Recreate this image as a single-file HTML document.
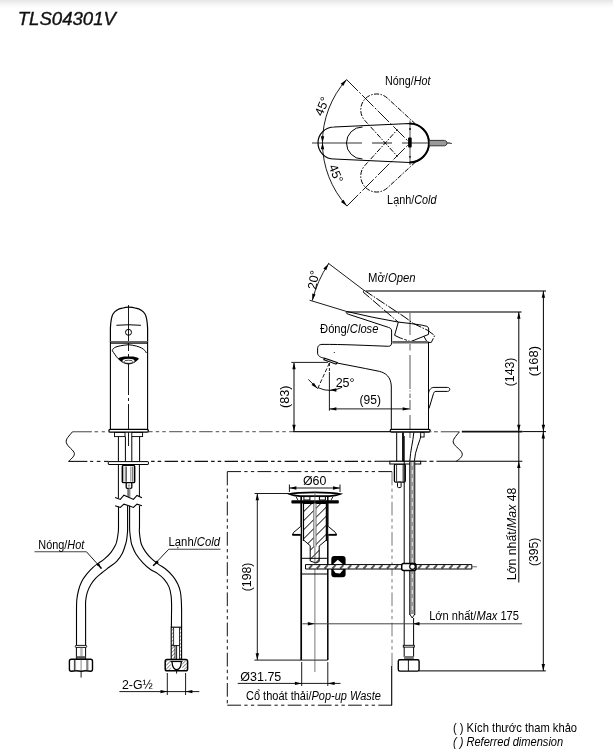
<!DOCTYPE html>
<html><head><meta charset="utf-8"><style>
html,body{margin:0;padding:0;background:#fff;}
body{width:613px;height:751px;overflow:hidden;position:relative;}
.top{position:absolute;left:0;top:0;width:613px;height:9px;background:linear-gradient(#e5e5e5 0px,#eeeeee 2px,#f5f5f5 4px,#fbfbfb 6px,#fff 9px);}
svg{position:absolute;left:0;top:0;font-family:"Liberation Sans",sans-serif;will-change:transform;}
</style></head><body><div class="top"></div>
<svg width="613" height="751" viewBox="0 0 613 751">
<text x="17.72" y="24.60" font-size="17.5" textLength="98.20" lengthAdjust="spacingAndGlyphs" fill="#111" font-style="italic" stroke="#111" stroke-width="0.35">TLS04301V</text>
<line x1="312" y1="143" x2="362" y2="143" stroke="#777" stroke-width="1.6" stroke-linecap="butt"/>
<line x1="372" y1="143" x2="392" y2="143" stroke="#777" stroke-width="1.6" stroke-linecap="butt"/>
<line x1="402" y1="143" x2="450" y2="143" stroke="#777" stroke-width="1.6" stroke-linecap="butt"/>
<line x1="410" y1="120.5" x2="410" y2="165" stroke="#777" stroke-width="1.3" stroke-linecap="butt"/>
<path d="M334,127 L409.5,123.5 A19.5,19.5 0 0 1 409.5,162.5 L334,159 A16,16 0 0 1 334,127 Z" stroke="#000" stroke-width="1.2" fill="none" />
<path d="M409.5,123.5 A19.5,19.5 0 0 1 409.5,162.5" stroke="#000" stroke-width="2.0" fill="none" />
<path d="M362.5,127 A16,16 0 0 0 362.5,159" stroke="#000" stroke-width="1.0" fill="none" />
<path d="M415.5,124 L387.9,98.6 A15.6,15.6 0 0 0 365.4,121.1 L397.5,156.5" stroke="#000" stroke-width="1.0" fill="none" stroke-dasharray="5 1.5 1.5 1.5" />
<path d="M415.5,162 L387.9,187.4 A15.6,15.6 0 0 1 365.4,164.9 L397.5,129.5" stroke="#000" stroke-width="1.0" fill="none" stroke-dasharray="5 1.5 1.5 1.5" />
<line x1="346.6" y1="79.6" x2="410" y2="143" stroke="#000" stroke-width="0.9" stroke-dasharray="16 2 2 2" stroke-linecap="butt"/>
<line x1="346.9" y1="206.1" x2="410" y2="143" stroke="#000" stroke-width="0.9" stroke-dasharray="16 2 2 2" stroke-linecap="butt"/>
<path d="M346.6,79.6 A94.5,94.5 0 0 0 346.9,206.1" stroke="#000" stroke-width="0.9" fill="none" />
<path d="M346.60,79.60 L343.20,85.95 L340.66,83.68 Z" fill="#000"/>
<path d="M346.90,206.10 L340.96,202.02 L343.50,199.75 Z" fill="#000"/>
<path d="M322.50,142.70 L320.80,136.20 L324.20,136.20 Z" fill="#000"/>
<path d="M322.50,142.70 L324.20,149.20 L320.80,149.20 Z" fill="#000"/>
<rect x="408.1" y="137.6" width="3.6" height="9.8" rx="0.9" stroke="#000" stroke-width="0" fill="#000"/>
<circle cx="410" cy="129" r="0.9" fill="#000"/><circle cx="410" cy="156.8" r="0.9" fill="#000"/>
<path d="M429.2,140.4 L444.5,140.4 Q446.8,140.6 447.2,143.1 Q446.8,145.6 444.5,145.8 L429.2,145.8 Z" stroke="#222" stroke-width="0.9" fill="#999" />
<line x1="447" y1="143.2" x2="451" y2="143.2" stroke="#555" stroke-width="0.8" stroke-linecap="butt"/>
<circle cx="451.1" cy="143.4" r="0.6" fill="#000"/>
<text x="326" y="107.9" font-size="12.5" text-anchor="middle" fill="#000" transform="rotate(-67.5 326 107.9)" >45°</text>
<text x="332" y="175.2" font-size="12.5" text-anchor="middle" fill="#000" transform="rotate(67.5 332 175.2)" >45°</text>
<text x="385.10" y="84.80" font-size="12.3" textLength="45.33" lengthAdjust="spacingAndGlyphs" fill="#000">Nóng/<tspan font-style="italic">Hot</tspan></text>
<text x="387.11" y="204.30" font-size="12.3" textLength="49.40" lengthAdjust="spacingAndGlyphs" fill="#000">Lạnh/<tspan font-style="italic">Cold</tspan></text>
<line x1="309.6" y1="300.2" x2="347.3" y2="311.7" stroke="#000" stroke-width="0.9" stroke-linecap="butt"/>
<line x1="328" y1="263" x2="364.2" y2="290.5" stroke="#000" stroke-width="0.9" stroke-linecap="butt"/>
<path d="M328.6,263.7 A115,115 0 0 0 312.3,300.6" stroke="#000" stroke-width="0.9" fill="none" />
<path d="M328.60,263.70 L326.21,270.29 L323.39,268.39 Z" fill="#000"/>
<path d="M312.30,300.60 L312.26,293.59 L315.57,294.40 Z" fill="#000"/>
<text x="317.6" y="280.6" font-size="12.5" text-anchor="middle" fill="#000" transform="rotate(-80 317.6 280.6)" >20°</text>
<text x="367.98" y="282.40" font-size="12.3" textLength="47.64" lengthAdjust="spacingAndGlyphs" fill="#000">Mở/<tspan font-style="italic">Open</tspan></text>
<text x="320.08" y="333.40" font-size="12.3" textLength="58.33" lengthAdjust="spacingAndGlyphs" fill="#000">Đóng/<tspan font-style="italic">Close</tspan></text>
<line x1="366" y1="291" x2="546" y2="291" stroke="#4a4a4a" stroke-width="1.5" stroke-linecap="butt"/>
<line x1="347" y1="312" x2="521.5" y2="312" stroke="#4a4a4a" stroke-width="1.5" stroke-linecap="butt"/>
<line x1="410" y1="312" x2="410" y2="335" stroke="#777" stroke-width="1.2" stroke-linecap="butt"/>
<line x1="410" y1="344" x2="410" y2="350.5" stroke="#666" stroke-width="1.1" stroke-linecap="butt"/>
<line x1="410" y1="355" x2="410" y2="389" stroke="#666" stroke-width="1.1" stroke-linecap="butt"/>
<line x1="410" y1="390.5" x2="410" y2="391.5" stroke="#666" stroke-width="1.1" stroke-linecap="butt"/>
<line x1="410" y1="393.5" x2="410" y2="398" stroke="#666" stroke-width="1.1" stroke-linecap="butt"/>
<line x1="410" y1="400" x2="410" y2="410" stroke="#666" stroke-width="1.1" stroke-linecap="butt"/>
<line x1="410" y1="415" x2="410" y2="429.5" stroke="#666" stroke-width="1.1" stroke-linecap="butt"/>
<line x1="410" y1="432" x2="410" y2="438" stroke="#666" stroke-width="1.1" stroke-linecap="butt"/>
<path d="M364.2,290.3 L405,317.3 L413.6,323.6 L427.8,330.4 L434.7,335.6 L431.3,342.4 L410.7,342.4" stroke="#000" stroke-width="1.0" fill="none" stroke-dasharray="10 1.5 1.5 1.5" />
<path d="M364.2,290.3 C362.8,291.5 363.5,293 365,293.6 L398.3,322.2" stroke="#000" stroke-width="1.0" fill="none" stroke-dasharray="10 1.5 1.5 1.5" />
<path d="M423.8,336.1 L427.3,342.4" stroke="#000" stroke-width="1.0" fill="none" stroke-dasharray="10 1.5 1.5 1.5" />
<path d="M346.9,311.5 Q372,317.5 397.8,322 L411.3,323.6 L422.1,325.2 L426.8,326.3 Q428.7,327 428.7,329 L428.5,334.4 L410.7,341.6" stroke="#000" stroke-width="1.0" fill="none" />
<path d="M346.9,311.5 C345.5,312.3 346.3,313.9 348.3,314.2 L388.5,327.4 C390.5,328 391.6,329 391.6,331 L391.6,342.4 C391.6,345 390.8,346.2 388.5,346.3" stroke="#000" stroke-width="1.0" fill="none" />
<path d="M398.3,322.2 L394.6,335.3 L400,337.9" stroke="#000" stroke-width="1.0" fill="none" />
<path d="M400,337.9 L410.7,341.6" stroke="#000" stroke-width="0.9" fill="none" stroke-dasharray="3 1.5" />
<line x1="392.3" y1="342.3" x2="428.5" y2="342.3" stroke="#666" stroke-width="2.4" stroke-linecap="butt"/>
<path d="M388.5,346.3 C370,345.6 340,344.2 322,344.4 C318.5,344.6 317.6,346.5 317.6,349 L317.6,353 C317.6,355.5 320,357.5 324.5,358.2" stroke="#000" stroke-width="1.0" fill="none" />
<path d="M337,363 L365.3,368.5 L379.2,371.3 C386,373 390.8,377 391.3,386 L391.3,430" stroke="#000" stroke-width="1.0" fill="none" />
<path d="M324.8,358.2 L337.2,362.6 L336,364.2 L323.8,359.8 Z" stroke="#000" stroke-width="1.1" fill="#ddd" />
<circle cx="334.3" cy="352.5" r="0.6" fill="#000"/>
<line x1="428.5" y1="342" x2="428.5" y2="430" stroke="#000" stroke-width="1.0" stroke-linecap="butt"/>
<rect x="390.2" y="429.4" width="40" height="2.6" rx="1.3" stroke="#000" stroke-width="1.3" fill="#fff"/>
<path d="M428.5,393 C429.5,389 431.5,387.4 434,387.4 L447.5,387.4 C450.5,387.4 450.5,391.4 447.5,391.4 L436,391.4 C434.5,391.4 433.8,392.5 433.5,393.5 L429,408.5" stroke="#000" stroke-width="1.0" fill="none" />
<line x1="291.3" y1="362.4" x2="327.9" y2="362.4" stroke="#000" stroke-width="0.9" stroke-linecap="butt"/>
<line x1="294" y1="362.4" x2="294" y2="431.6" stroke="#5a5a5a" stroke-width="1.5" stroke-linecap="butt"/>
<path d="M294.00,362.40 L295.70,369.20 L292.30,369.20 Z" fill="#000"/>
<path d="M294.00,431.60 L292.30,424.80 L295.70,424.80 Z" fill="#000"/>
<text x="288.80" y="407.91" font-size="12.2" textLength="22.43" lengthAdjust="spacingAndGlyphs" fill="#000" transform="rotate(-90 288.80 407.91)">(83)</text>
<line x1="329.4" y1="363" x2="329.4" y2="372" stroke="#000" stroke-width="0.9" stroke-dasharray="3 2" stroke-linecap="butt"/>
<line x1="329.4" y1="372" x2="329.4" y2="410.7" stroke="#000" stroke-width="0.9" stroke-linecap="butt"/>
<line x1="329.4" y1="363" x2="317.4" y2="389.2" stroke="#000" stroke-width="0.9" stroke-dasharray="4 2" stroke-linecap="butt"/>
<path d="M317.9,387.6 A27,27 0 0 0 342.2,387.2" stroke="#000" stroke-width="0.9" fill="none" />
<line x1="308.3" y1="379.4" x2="317.5" y2="388.5" stroke="#000" stroke-width="0.9" stroke-linecap="butt"/>
<path d="M317.60,388.60 L311.51,385.12 L313.87,382.67 Z" fill="#000"/>
<path d="M329.60,390.00 L336.40,388.30 L336.40,391.70 Z" fill="#000"/>
<text x="335.67" y="386.60" font-size="12.2" textLength="18.95" lengthAdjust="spacingAndGlyphs" fill="#000">25°</text>
<line x1="329.4" y1="408.9" x2="409.5" y2="408.9" stroke="#000" stroke-width="0.9" stroke-linecap="butt"/>
<path d="M329.60,408.90 L336.40,407.20 L336.40,410.60 Z" fill="#000"/>
<path d="M409.50,408.90 L402.70,410.60 L402.70,407.20 Z" fill="#000"/>
<text x="359.52" y="403.70" font-size="12.1" textLength="21.40" lengthAdjust="spacingAndGlyphs" fill="#000">(95)</text>
<line x1="518.8" y1="312" x2="518.8" y2="431.6" stroke="#000" stroke-width="1.0" stroke-linecap="butt"/>
<path d="M518.80,312.00 L520.50,318.80 L517.10,318.80 Z" fill="#000"/>
<path d="M518.80,431.60 L517.10,424.80 L520.50,424.80 Z" fill="#000"/>
<text x="513.60" y="386.27" font-size="12.2" textLength="28.71" lengthAdjust="spacingAndGlyphs" fill="#000" transform="rotate(-90 513.60 386.27)">(143)</text>
<line x1="543.4" y1="291" x2="543.4" y2="431.6" stroke="#000" stroke-width="1.0" stroke-linecap="butt"/>
<path d="M543.40,291.00 L545.10,297.80 L541.70,297.80 Z" fill="#000"/>
<path d="M543.40,431.60 L541.70,424.80 L545.10,424.80 Z" fill="#000"/>
<text x="537.70" y="376.16" font-size="12.2" textLength="30.11" lengthAdjust="spacingAndGlyphs" fill="#000" transform="rotate(-90 537.70 376.16)">(168)</text>
<line x1="72.6" y1="431.7" x2="91.9" y2="431.7" stroke="#707070" stroke-width="1.3" stroke-linecap="butt"/>
<line x1="94.5" y1="431.7" x2="98.1" y2="431.7" stroke="#707070" stroke-width="1.3" stroke-linecap="butt"/>
<line x1="101.7" y1="431.7" x2="104.9" y2="431.7" stroke="#707070" stroke-width="1.3" stroke-linecap="butt"/>
<line x1="148.5" y1="431.7" x2="293" y2="431.7" stroke="#707070" stroke-width="1.3" stroke-dasharray="13.4 3.1 3.5 3.1 3.5 3.4" stroke-linecap="butt" stroke-dashoffset="9.30"/>
<line x1="293" y1="431.6" x2="390" y2="431.6" stroke="#1a1a1a" stroke-width="1.3" stroke-linecap="butt"/>
<line x1="430" y1="431.7" x2="431.5" y2="431.7" stroke="#707070" stroke-width="1.3" stroke-linecap="butt"/>
<line x1="434" y1="431.7" x2="437.8" y2="431.7" stroke="#707070" stroke-width="1.3" stroke-linecap="butt"/>
<line x1="440.8" y1="431.7" x2="459.4" y2="431.7" stroke="#707070" stroke-width="1.3" stroke-linecap="butt"/>
<line x1="461.8" y1="431.6" x2="522.3" y2="431.6" stroke="#111" stroke-width="1.7" stroke-linecap="butt"/>
<line x1="522.3" y1="431.6" x2="546" y2="431.6" stroke="#000" stroke-width="1.0" stroke-linecap="butt"/>
<line x1="68.5" y1="461.4" x2="87.4" y2="461.4" stroke="#111" stroke-width="1.1" stroke-linecap="butt"/>
<line x1="90.1" y1="461.4" x2="93.2" y2="461.4" stroke="#111" stroke-width="1.1" stroke-linecap="butt"/>
<line x1="96.8" y1="461.4" x2="100.4" y2="461.4" stroke="#111" stroke-width="1.1" stroke-linecap="butt"/>
<line x1="104" y1="461.4" x2="108.5" y2="461.4" stroke="#111" stroke-width="1.1" stroke-linecap="butt"/>
<line x1="148.5" y1="461.4" x2="376" y2="461.4" stroke="#111" stroke-width="1.1" stroke-dasharray="13.4 3.1 3.5 3.1 3.5 3.4" stroke-linecap="butt" stroke-dashoffset="13.90"/>
<line x1="376" y1="461.3" x2="426.6" y2="461.3" stroke="#000" stroke-width="1.1" stroke-linecap="butt"/>
<line x1="429.5" y1="461.3" x2="433.5" y2="461.3" stroke="#000" stroke-width="1.1" stroke-linecap="butt"/>
<line x1="436.4" y1="461.3" x2="522.3" y2="461.3" stroke="#000" stroke-width="1.1" stroke-linecap="butt"/>
<path d="M72.6,431.7 C69,436 65.5,439 66.3,442.5 C67.5,447 74,450 74.4,453.7 C74.5,456.5 70.5,459.5 68.5,461.4" stroke="#000" stroke-width="1.0" fill="none" />
<path d="M459.4,431.9 C456,436 452,440 453.5,443 C455,447 462,450 462.3,454.3 C462.3,457 459,459.5 456.2,461.3" stroke="#000" stroke-width="1.0" fill="none" />
<line x1="128.5" y1="305" x2="128.5" y2="351" stroke="#000" stroke-width="0.9" stroke-linecap="butt"/>
<line x1="128.5" y1="354" x2="128.5" y2="395" stroke="#000" stroke-width="0.9" stroke-linecap="butt"/>
<line x1="128.5" y1="398" x2="128.5" y2="401" stroke="#000" stroke-width="0.9" stroke-linecap="butt"/>
<line x1="128.5" y1="404" x2="128.5" y2="446" stroke="#000" stroke-width="0.9" stroke-linecap="butt"/>
<path d="M110.4,342 L110.4,328 C110.8,320 111.5,316.5 113,314 C115,310.8 119,308.8 122.2,308.2 C124.5,307.5 126.5,307.2 129,307.2 C131.5,307.2 133.5,307.5 135.8,308.2 C139,308.8 143,310.8 145,314 C146.5,316.5 147.2,320 147.6,328 L147.6,342" stroke="#000" stroke-width="1.2" fill="none" />
<line x1="110.4" y1="342" x2="147.8" y2="342" stroke="#666" stroke-width="2.2" stroke-linecap="butt"/>
<line x1="110.4" y1="343.4" x2="147.8" y2="343.4" stroke="#000" stroke-width="0.8" stroke-linecap="butt"/>
<path d="M116.4,325.3 Q128.5,324.2 140.9,325.3" stroke="#000" stroke-width="1.0" fill="none" />
<circle cx="128.5" cy="332.3" r="3.0" stroke="#000" stroke-width="1.0" fill="none"/>
<line x1="110.4" y1="342" x2="110.4" y2="430" stroke="#000" stroke-width="1.1" stroke-linecap="butt"/>
<line x1="147.6" y1="342" x2="147.6" y2="430" stroke="#000" stroke-width="1.1" stroke-linecap="butt"/>
<path d="M112.3,350.7 C113,347.5 116,346 128.4,344.7 C141,346 144.9,349.5 146.4,353" stroke="#000" stroke-width="1.0" fill="none" />
<path d="M112.3,350.7 C114,353 116,356.5 118,358.5" stroke="#000" stroke-width="1.0" fill="none" />
<path d="M117.7,358.7 C121,356 125,356.4 128.5,356.4 C132,356.4 136,356 139.1,358.7 C136,362 132,364.5 128.5,364.5 C125,364.5 121,362 117.7,358.7 Z" fill="#000"/>
<ellipse cx="128.5" cy="361" rx="6.1" ry="2.3" fill="#fff"/>
<ellipse cx="128.5" cy="361.8" rx="4.5" ry="1.6" fill="none" stroke="#000" stroke-width="0.7"/>
<rect x="108.9" y="429.4" width="39.4" height="2.8" rx="1.3" stroke="#000" stroke-width="1.3" fill="#fff"/>
<rect x="114.5" y="432.5" width="10.5" height="4.1" rx="0" stroke="#000" stroke-width="0.9" fill="#fff"/>
<rect x="131.8" y="432.5" width="10.8" height="4.1" rx="0" stroke="#000" stroke-width="0.9" fill="#fff"/>
<line x1="118.4" y1="436.6" x2="118.4" y2="461.4" stroke="#000" stroke-width="1.0" stroke-linecap="butt"/>
<line x1="125.4" y1="436.6" x2="125.4" y2="461.4" stroke="#000" stroke-width="1.0" stroke-linecap="butt"/>
<line x1="131.8" y1="436.6" x2="131.8" y2="461.4" stroke="#000" stroke-width="1.0" stroke-linecap="butt"/>
<line x1="139.6" y1="436.6" x2="139.6" y2="461.4" stroke="#000" stroke-width="1.0" stroke-linecap="butt"/>
<rect x="108.3" y="461.6" width="40.1" height="2.9" rx="0.5" stroke="#000" stroke-width="1.0" fill="#fff"/>
<line x1="118.4" y1="464.5" x2="118.4" y2="498.2" stroke="#000" stroke-width="1.0" stroke-linecap="butt"/>
<line x1="139.4" y1="464.5" x2="139.4" y2="496.6" stroke="#000" stroke-width="1.0" stroke-linecap="butt"/>
<rect x="122.3" y="465.4" width="12.4" height="17.2" rx="1.2" stroke="#000" stroke-width="1.4" fill="#fff"/>
<line x1="123.8" y1="466.5" x2="123.8" y2="481.8" stroke="#777" stroke-width="0.8" stroke-linecap="butt"/>
<line x1="126.1" y1="466.5" x2="126.1" y2="481.8" stroke="#111" stroke-width="1.1" stroke-linecap="butt"/>
<line x1="130.8" y1="466.5" x2="130.8" y2="481.8" stroke="#999" stroke-width="1.2" stroke-linecap="butt"/>
<line x1="132.8" y1="466.5" x2="132.8" y2="481.8" stroke="#333" stroke-width="0.9" stroke-linecap="butt"/>
<rect x="126.2" y="482.6" width="5.6" height="5.7" rx="1" stroke="#000" stroke-width="1.3" fill="#fff"/>
<circle cx="129" cy="485.6" r="1.3" fill="#aaa"/>
<line x1="128.1" y1="488.3" x2="128.1" y2="496.9" stroke="#000" stroke-width="1.0" stroke-linecap="butt"/>
<rect x="128.6" y="488.3" width="1.8" height="8.6" fill="#888"/>
<path d="M115.05,497.4 L120.3,499.4 L123.9,495.2 L128.1,496.9 L133.4,499.4 L137,495.5 L142,497.7" stroke="#000" stroke-width="1.1" fill="none" />
<path d="M115.05,505.7 L120.3,507.4 L123.9,504.2 L128.1,505.6 L133.4,507.4 L137,504.2 L142,505.7" stroke="#000" stroke-width="1.1" fill="none" />
<path d="M118.5,506.5 L118.5,527 C118.47,527.83 118.57,529.72 118.30,532.00 C118.03,534.28 117.37,538.53 116.90,540.70 C116.43,542.87 116.48,543.07 115.50,545.00 C114.52,546.93 112.83,549.98 111.00,552.30 C109.17,554.62 106.53,557.13 104.50,558.90 C102.47,560.67 100.72,561.48 98.80,562.90 C96.88,564.32 95.05,565.48 93.00,567.40 C90.95,569.32 88.40,572.02 86.50,574.40 C84.60,576.78 82.92,579.10 81.60,581.70 C80.28,584.30 79.40,586.95 78.60,590.00 C77.80,593.05 77.15,596.67 76.80,600.00 C76.45,603.33 76.55,608.33 76.50,610.00 L76.5,645.4" stroke="#000" stroke-width="1.1" fill="none" />
<path d="M127.6,506 L127.6,527 C127.58,527.83 127.68,529.72 127.50,532.00 C127.32,534.28 126.87,538.53 126.50,540.70 C126.13,542.87 125.98,542.92 125.30,545.00 C124.62,547.08 123.83,550.48 122.40,553.20 C120.97,555.92 118.87,559.00 116.70,561.30 C114.53,563.60 111.85,565.10 109.40,567.00 C106.95,568.90 104.32,570.80 102.00,572.70 C99.68,574.60 97.40,576.35 95.50,578.40 C93.60,580.45 91.97,582.68 90.60,585.00 C89.23,587.32 88.12,589.72 87.30,592.30 C86.48,594.88 85.98,597.88 85.70,600.50 C85.42,603.12 85.62,606.75 85.60,608.00 L85.6,645.4" stroke="#000" stroke-width="1.1" fill="none" />
<path d="M129.6,505.8 L129.6,527 C129.63,527.83 129.58,529.72 129.80,532.00 C130.02,534.28 130.55,538.53 130.90,540.70 C131.25,542.87 131.08,542.82 131.90,545.00 C132.72,547.18 134.00,550.87 135.80,553.80 C137.60,556.73 140.25,559.98 142.70,562.60 C145.15,565.22 148.05,567.70 150.50,569.50 C152.95,571.30 155.12,571.77 157.40,573.40 C159.68,575.03 162.25,577.02 164.20,579.30 C166.15,581.58 167.95,584.33 169.10,587.10 C170.25,589.87 170.68,592.92 171.10,595.90 C171.52,598.88 171.53,601.98 171.60,605.00 C171.67,608.02 171.52,612.50 171.50,614.00 L171.4,627.2" stroke="#000" stroke-width="1.1" fill="none" />
<path d="M139.5,505.5 L139.5,527 C139.48,527.83 139.23,529.72 139.40,532.00 C139.57,534.28 140.12,538.53 140.50,540.70 C140.88,542.87 140.85,543.13 141.70,545.00 C142.55,546.87 143.97,549.62 145.60,551.90 C147.23,554.18 149.38,556.67 151.50,558.70 C153.62,560.73 155.85,562.30 158.30,564.10 C160.75,565.90 163.75,567.47 166.20,569.50 C168.65,571.53 171.05,573.85 173.00,576.30 C174.95,578.75 176.67,581.58 177.90,584.20 C179.13,586.82 179.83,589.23 180.40,592.00 C180.97,594.77 181.10,597.80 181.30,600.80 C181.50,603.80 181.55,608.47 181.60,610.00 L181.6,627.2" stroke="#000" stroke-width="1.1" fill="none" />
<line x1="34.5" y1="551.8" x2="86.5" y2="551.8" stroke="#444" stroke-width="1.1" stroke-linecap="butt"/>
<line x1="86.5" y1="551.8" x2="101.4" y2="568.4" stroke="#000" stroke-width="0.9" stroke-linecap="butt"/>
<circle cx="98.3" cy="564.7" r="1.4" fill="#000"/>
<line x1="98.3" y1="564.7" x2="101.4" y2="568.4" stroke="#000" stroke-width="1.5" stroke-linecap="butt"/>
<line x1="168.7" y1="549.3" x2="220.5" y2="549.3" stroke="#444" stroke-width="1.1" stroke-linecap="butt"/>
<line x1="168.7" y1="549.3" x2="153.2" y2="565.7" stroke="#000" stroke-width="0.9" stroke-linecap="butt"/>
<circle cx="156.9" cy="562.2" r="1.4" fill="#000"/>
<line x1="156.9" y1="562.2" x2="153.2" y2="565.7" stroke="#000" stroke-width="1.5" stroke-linecap="butt"/>
<text x="38.31" y="548.50" font-size="12.3" textLength="46.00" lengthAdjust="spacingAndGlyphs" fill="#000">Nóng/<tspan font-style="italic">Hot</tspan></text>
<text x="168.59" y="546.40" font-size="12.3" textLength="51.41" lengthAdjust="spacingAndGlyphs" fill="#000">Lạnh/<tspan font-style="italic">Cold</tspan></text>
<rect x="75.3" y="645.4" width="11.4" height="2.0" rx="0.8" stroke="#000" stroke-width="0.9" fill="#fff"/>
<line x1="76.4" y1="647.4" x2="76.4" y2="659.2" stroke="#000" stroke-width="1.0" stroke-linecap="butt"/>
<line x1="85.6" y1="647.4" x2="85.6" y2="659.2" stroke="#000" stroke-width="1.0" stroke-linecap="butt"/>
<line x1="80.9" y1="647.4" x2="80.9" y2="659.2" stroke="#666" stroke-width="0.6" stroke-linecap="butt"/>
<line x1="82" y1="647.4" x2="82" y2="659.2" stroke="#666" stroke-width="0.6" stroke-linecap="butt"/>
<rect x="76.6" y="656.2" width="8.8" height="2.4" fill="#555"/>
<path d="M71.3,659.2 L90.6,659.2 Q92.5,659.2 92.5,661.2 L92.5,669.2 Q92.5,671.2 90.6,671.2 Q86,670.4 81.1,671.2 Q76,670.4 71.3,671.2 Q69.4,671.2 69.4,669.2 L69.4,661.2 Q69.4,659.2 71.3,659.2 Z" stroke="#000" stroke-width="1.4" fill="#fff" />
<line x1="74.4" y1="659.6" x2="74.4" y2="670.8" stroke="#000" stroke-width="0.8" stroke-linecap="butt"/>
<line x1="75.6" y1="659.6" x2="75.6" y2="670.8" stroke="#555" stroke-width="0.6" stroke-linecap="butt"/>
<line x1="87" y1="659.6" x2="87" y2="670.8" stroke="#000" stroke-width="0.8" stroke-linecap="butt"/>
<line x1="88" y1="659.6" x2="88" y2="670.8" stroke="#555" stroke-width="0.6" stroke-linecap="butt"/>
<line x1="81.1" y1="659.6" x2="81.1" y2="670.8" stroke="#555" stroke-width="0.7" stroke-linecap="butt"/>
<line x1="81.1" y1="671.2" x2="81.1" y2="677.6" stroke="#000" stroke-width="0.9" stroke-linecap="butt"/>
<rect x="171.3" y="627.2" width="2.3" height="18.4" fill="url(#h3)"/>
<rect x="179.5" y="627.2" width="2.1" height="32.4" fill="url(#h3)"/>
<rect x="171.3" y="645.6" width="3.7" height="14" fill="url(#h3)"/>
<rect x="171.2" y="627.2" width="10.4" height="32.4" rx="0" stroke="#000" stroke-width="1.1" fill="none"/>
<line x1="173.6" y1="627.2" x2="173.6" y2="645.6" stroke="#000" stroke-width="0.8" stroke-linecap="butt"/>
<line x1="179.5" y1="627.2" x2="179.5" y2="659.6" stroke="#000" stroke-width="0.8" stroke-linecap="butt"/>
<line x1="171.2" y1="645.6" x2="179.5" y2="645.6" stroke="#000" stroke-width="0.9" stroke-linecap="butt"/>
<line x1="175" y1="645.6" x2="175" y2="659.6" stroke="#000" stroke-width="0.8" stroke-linecap="butt"/>
<line x1="176.6" y1="645.6" x2="176.6" y2="673.6" stroke="#000" stroke-width="0.9" stroke-linecap="butt"/>
<rect x="165.2" y="659.6" width="22.4" height="11.2" rx="1.8" stroke="#000" stroke-width="1.5" fill="#fff"/>
<rect x="166.2" y="660.6" width="4.5" height="9.2" fill="url(#h3)"/>
<rect x="182.3" y="660.6" width="4.4" height="9.2" fill="url(#h3)"/>
<path d="M170.5,661.5 L182.5,661.5" stroke="#000" stroke-width="1.2" fill="none" />
<path d="M172,662 C172.5,668 174.5,669.6 176.6,669.6 C179,669.6 181,668 181.3,662" stroke="#000" stroke-width="1.3" fill="none" />
<line x1="167.3" y1="673" x2="167.3" y2="695" stroke="#000" stroke-width="0.9" stroke-linecap="butt"/>
<line x1="185.6" y1="673" x2="185.6" y2="695" stroke="#000" stroke-width="0.9" stroke-linecap="butt"/>
<line x1="119.4" y1="691.6" x2="199.3" y2="691.6" stroke="#000" stroke-width="0.9" stroke-linecap="butt"/>
<path d="M167.30,691.60 L160.50,693.30 L160.50,689.90 Z" fill="#000"/>
<path d="M185.60,691.60 L192.40,689.90 L192.40,693.30 Z" fill="#000"/>
<text x="122.00" y="689.30" font-size="12" textLength="30.81" lengthAdjust="spacingAndGlyphs" fill="#000">2-G½</text>
<line x1="227.3" y1="471.6" x2="392" y2="471.6" stroke="#111" stroke-width="1.0" stroke-dasharray="13.7 3.3 3.3 3.3 3.3 3.3" stroke-linecap="butt"/>
<line x1="227.3" y1="471.6" x2="227.3" y2="705.2" stroke="#111" stroke-width="1.0" stroke-dasharray="13.7 3.3 3.3 3.3 3.3 3.3" stroke-linecap="butt"/>
<line x1="227.3" y1="705.2" x2="392" y2="705.2" stroke="#111" stroke-width="1.0" stroke-dasharray="13.7 3.3 3.3 3.3 3.3 3.3" stroke-linecap="butt"/>
<line x1="392" y1="471.6" x2="392" y2="666" stroke="#777" stroke-width="1.0" stroke-dasharray="13.7 3.3 3.3 3.3 3.3 3.3" stroke-linecap="butt"/>
<line x1="391.7" y1="666" x2="391.7" y2="705.2" stroke="#000" stroke-width="1.1" stroke-linecap="butt"/>
<line x1="254.6" y1="493.5" x2="289.2" y2="493.5" stroke="#000" stroke-width="0.9" stroke-linecap="butt"/>
<line x1="254.4" y1="660.1" x2="327.8" y2="660.1" stroke="#000" stroke-width="0.9" stroke-linecap="butt"/>
<line x1="257.3" y1="493.5" x2="257.3" y2="660.1" stroke="#000" stroke-width="0.9" stroke-linecap="butt"/>
<path d="M257.30,493.50 L259.00,500.30 L255.60,500.30 Z" fill="#000"/>
<path d="M257.30,660.10 L255.60,653.30 L259.00,653.30 Z" fill="#000"/>
<text x="251.50" y="591.23" font-size="12.2" textLength="28.68" lengthAdjust="spacingAndGlyphs" fill="#000" transform="rotate(-90 251.50 591.23)">(198)</text>
<line x1="289.4" y1="484.5" x2="289.4" y2="492" stroke="#000" stroke-width="0.9" stroke-linecap="butt"/>
<line x1="340" y1="484.5" x2="340" y2="492" stroke="#000" stroke-width="0.9" stroke-linecap="butt"/>
<line x1="289.4" y1="488" x2="340" y2="488" stroke="#000" stroke-width="0.9" stroke-linecap="butt"/>
<path d="M289.60,488.00 L296.40,486.30 L296.40,489.70 Z" fill="#000"/>
<path d="M339.80,488.00 L333.00,489.70 L333.00,486.30 Z" fill="#000"/>
<text x="302.91" y="485.20" font-size="12.1" textLength="23.43" lengthAdjust="spacingAndGlyphs" fill="#000">Ø60</text>
<path d="M289.4,494 C295,492.4 305,492.3 314.8,492.3 C325,492.3 334,492.4 340.3,494 C337,495.3 333,495.9 329.5,496.2 L300,496.2 C296.5,495.9 292.5,495.3 289.4,494 Z" stroke="#000" stroke-width="1.8" fill="#fff" />
<rect x="303.9" y="496.6" width="6" height="3.4" rx="0" stroke="#000" stroke-width="1.0" fill="#fff"/>
<rect x="319.4" y="496.6" width="6" height="3.4" rx="0" stroke="#000" stroke-width="1.0" fill="#fff"/>
<rect x="291.4" y="500.2" width="47.4" height="3.4" fill="#000" rx="0.8"/>
<line x1="301.2" y1="496" x2="301.2" y2="660.1" stroke="#000" stroke-width="1.7" stroke-linecap="butt"/>
<line x1="327.8" y1="496" x2="327.8" y2="660.1" stroke="#000" stroke-width="1.5" stroke-linecap="butt"/>
<line x1="303.4" y1="503" x2="303.4" y2="541" stroke="#000" stroke-width="1.1" stroke-linecap="butt"/>
<line x1="326.4" y1="503" x2="326.4" y2="541" stroke="#000" stroke-width="1.1" stroke-linecap="butt"/>
<defs><pattern id="h" width="6.4" height="6.4" patternUnits="userSpaceOnUse" patternTransform="rotate(45)"><line x1="0" y1="0" x2="0" y2="6.4" stroke="#000" stroke-width="1.6"/></pattern><pattern id="h3" width="2.6" height="2.6" patternUnits="userSpaceOnUse" patternTransform="rotate(45)"><line x1="0" y1="0" x2="0" y2="2.6" stroke="#111" stroke-width="0.9"/></pattern><pattern id="h2" width="6.8" height="6.8" patternUnits="userSpaceOnUse" patternTransform="rotate(60)"><line x1="0" y1="0" x2="0" y2="6.8" stroke="#444" stroke-width="3"/></pattern></defs>
<path d="M303.6,503.5 L326.4,503.5 L326.4,540 L319.2,546 L319.2,561.5 L316,563 L310.2,561 L310.2,545.7 L303.6,540 Z" stroke="#000" stroke-width="1.0" fill="url(#h)" />
<rect x="313.6" y="503.6" width="2.6" height="43" fill="#fff"/>
<line x1="313.8" y1="503.6" x2="313.8" y2="546.5" stroke="#444" stroke-width="0.8" stroke-linecap="butt"/>
<line x1="316" y1="503.6" x2="316" y2="546.5" stroke="#444" stroke-width="0.8" stroke-linecap="butt"/>
<line x1="314.9" y1="492" x2="314.9" y2="503.6" stroke="#555" stroke-width="0.8" stroke-linecap="butt"/>
<line x1="314.9" y1="546.5" x2="314.9" y2="672" stroke="#555" stroke-width="0.8" stroke-linecap="butt"/>
<line x1="314.9" y1="503.6" x2="314.9" y2="546.5" stroke="#bbb" stroke-width="0.6" stroke-linecap="butt"/>
<path d="M296,496.5 L298,500.3 M333,496.5 L331,500.3" stroke="#000" stroke-width="0.9" fill="none" />
<path d="M300.6,526.5 L293.5,532.5 L292.5,534.8 L300.6,534.8" stroke="#000" stroke-width="1.0" fill="#fff" />
<path d="M328.4,526.5 L335.5,532.5 L336.5,534.8 L328.4,534.8" stroke="#000" stroke-width="1.0" fill="#fff" />
<line x1="292.3" y1="534.8" x2="300.6" y2="534.8" stroke="#000" stroke-width="1.8" stroke-linecap="butt"/>
<line x1="328.4" y1="534.8" x2="336.7" y2="534.8" stroke="#000" stroke-width="1.8" stroke-linecap="butt"/>
<line x1="301.2" y1="558.3" x2="327.8" y2="558.3" stroke="#000" stroke-width="1.0" stroke-linecap="butt"/>
<line x1="301.2" y1="574" x2="327.8" y2="574" stroke="#000" stroke-width="1.0" stroke-linecap="butt"/>
<rect x="331.3" y="556" width="14.3" height="21.2" rx="3" fill="#000"/>
<path d="M333,564.2 L337.8,559.8 L343,564.2 Z" fill="#fff"/>
<path d="M333.2,569.4 L343.4,569.4 L340,573.4 L335.5,573 Z" fill="#fff"/>
<rect x="305.5" y="564.6" width="166.3" height="4.4" fill="#fff"/>
<line x1="309.0" y1="568.5" x2="312.2" y2="565.1" stroke="#555" stroke-width="1.9" stroke-linecap="butt"/>
<line x1="316.8" y1="568.5" x2="320.0" y2="565.1" stroke="#555" stroke-width="1.9" stroke-linecap="butt"/>
<line x1="324.6" y1="568.5" x2="327.8" y2="565.1" stroke="#555" stroke-width="1.9" stroke-linecap="butt"/>
<line x1="332.4" y1="568.5" x2="335.59999999999997" y2="565.1" stroke="#555" stroke-width="1.9" stroke-linecap="butt"/>
<line x1="340.2" y1="568.5" x2="343.4" y2="565.1" stroke="#555" stroke-width="1.9" stroke-linecap="butt"/>
<line x1="348.0" y1="568.5" x2="351.2" y2="565.1" stroke="#555" stroke-width="1.9" stroke-linecap="butt"/>
<line x1="355.8" y1="568.5" x2="359.0" y2="565.1" stroke="#555" stroke-width="1.9" stroke-linecap="butt"/>
<line x1="363.6" y1="568.5" x2="366.8" y2="565.1" stroke="#555" stroke-width="1.9" stroke-linecap="butt"/>
<line x1="371.4" y1="568.5" x2="374.59999999999997" y2="565.1" stroke="#555" stroke-width="1.9" stroke-linecap="butt"/>
<line x1="379.2" y1="568.5" x2="382.4" y2="565.1" stroke="#555" stroke-width="1.9" stroke-linecap="butt"/>
<line x1="387.0" y1="568.5" x2="390.2" y2="565.1" stroke="#555" stroke-width="1.9" stroke-linecap="butt"/>
<line x1="394.8" y1="568.5" x2="398.0" y2="565.1" stroke="#555" stroke-width="1.9" stroke-linecap="butt"/>
<line x1="402.6" y1="568.5" x2="405.8" y2="565.1" stroke="#555" stroke-width="1.9" stroke-linecap="butt"/>
<line x1="410.4" y1="568.5" x2="413.59999999999997" y2="565.1" stroke="#555" stroke-width="1.9" stroke-linecap="butt"/>
<line x1="418.2" y1="568.5" x2="421.4" y2="565.1" stroke="#555" stroke-width="1.9" stroke-linecap="butt"/>
<line x1="426.0" y1="568.5" x2="429.2" y2="565.1" stroke="#555" stroke-width="1.9" stroke-linecap="butt"/>
<line x1="433.8" y1="568.5" x2="437.0" y2="565.1" stroke="#555" stroke-width="1.9" stroke-linecap="butt"/>
<line x1="441.6" y1="568.5" x2="444.8" y2="565.1" stroke="#555" stroke-width="1.9" stroke-linecap="butt"/>
<line x1="449.4" y1="568.5" x2="452.59999999999997" y2="565.1" stroke="#555" stroke-width="1.9" stroke-linecap="butt"/>
<line x1="457.2" y1="568.5" x2="460.4" y2="565.1" stroke="#555" stroke-width="1.9" stroke-linecap="butt"/>
<line x1="465.0" y1="568.5" x2="468.2" y2="565.1" stroke="#555" stroke-width="1.9" stroke-linecap="butt"/>
<path d="M305.5,564.6 L471.8,564.6 L471.8,569 L305.5,569 Z" stroke="#000" stroke-width="1.0" fill="none" />
<line x1="471.8" y1="566.8" x2="477" y2="566.8" stroke="#444" stroke-width="0.8" stroke-linecap="butt"/>
<line x1="301.7" y1="662" x2="301.7" y2="686" stroke="#000" stroke-width="0.9" stroke-linecap="butt"/>
<line x1="327.8" y1="662" x2="327.8" y2="686" stroke="#000" stroke-width="0.9" stroke-linecap="butt"/>
<line x1="237.7" y1="683.4" x2="340.5" y2="683.4" stroke="#000" stroke-width="0.9" stroke-linecap="butt"/>
<path d="M301.70,683.40 L294.90,685.10 L294.90,681.70 Z" fill="#000"/>
<path d="M327.80,683.40 L334.60,681.70 L334.60,685.10 Z" fill="#000"/>
<text x="240.30" y="680.50" font-size="12" textLength="41.00" lengthAdjust="spacingAndGlyphs" fill="#000">Ø31.75</text>
<text x="246.00" y="699.90" font-size="12.3" textLength="135.00" lengthAdjust="spacingAndGlyphs" fill="#000">Cổ thoát thải/<tspan font-style="italic">Pop-up Waste</tspan></text>
<line x1="396.7" y1="432.5" x2="396.7" y2="461.3" stroke="#000" stroke-width="1.0" stroke-linecap="butt"/>
<line x1="403" y1="432.5" x2="403" y2="461.3" stroke="#000" stroke-width="1.8" stroke-linecap="butt"/>
<rect x="394.4" y="464" width="10.9" height="18.2" rx="1.5" stroke="#000" stroke-width="1.3" fill="#fff"/>
<line x1="396.6" y1="465" x2="396.6" y2="481.5" stroke="#000" stroke-width="0.8" stroke-linecap="butt"/>
<line x1="403.1" y1="465" x2="403.1" y2="481.5" stroke="#000" stroke-width="0.8" stroke-linecap="butt"/>
<rect x="397.5" y="482.2" width="3.6" height="5.4" rx="1" stroke="#000" stroke-width="1.0" fill="#fff"/>
<rect x="389.8" y="461.3" width="30.9" height="2.7" rx="0" stroke="#000" stroke-width="1.0" fill="#fff"/>
<path d="M413.8,432.5 C413,442 410.5,450 409.8,461" stroke="#000" stroke-width="1.0" fill="none" />
<path d="M421.8,432.5 C420,442 415,450 414.4,461" stroke="#000" stroke-width="1.0" fill="none" />
<rect x="420.7" y="432.5" width="3.4" height="4.5" rx="0" stroke="#000" stroke-width="0.9" fill="#fff"/>
<rect x="409.9" y="462" width="4.8" height="152" fill="#999"/>
<line x1="409.7" y1="462" x2="409.7" y2="615" stroke="#000" stroke-width="0.9" stroke-linecap="butt"/>
<line x1="414.8" y1="462" x2="414.8" y2="615" stroke="#000" stroke-width="0.9" stroke-linecap="butt"/>
<line x1="412.3" y1="462" x2="412.3" y2="612" stroke="#fff" stroke-width="0.8" stroke-dasharray="4 4" stroke-linecap="butt"/>
<path d="M409.7,614 L412.2,618 L414.8,614" stroke="#000" stroke-width="0.9" fill="none" />
<line x1="404.2" y1="436" x2="404.2" y2="645.3" stroke="#000" stroke-width="1.0" stroke-linecap="butt"/>
<line x1="413.6" y1="618" x2="413.6" y2="645.3" stroke="#000" stroke-width="1.0" stroke-linecap="butt"/>
<rect x="403.3" y="645.3" width="11" height="1.8" rx="0" stroke="#000" stroke-width="0.9" fill="#fff"/>
<line x1="404.2" y1="647" x2="404.2" y2="657" stroke="#000" stroke-width="1.0" stroke-linecap="butt"/>
<line x1="413.6" y1="647" x2="413.6" y2="657" stroke="#000" stroke-width="1.0" stroke-linecap="butt"/>
<rect x="404" y="656" width="9.8" height="3" fill="#777"/>
<rect x="398.3" y="659.7" width="20.8" height="11.4" rx="1.5" stroke="#000" stroke-width="1.4" fill="#fff"/>
<line x1="408.4" y1="660" x2="408.4" y2="671" stroke="#000" stroke-width="0.9" stroke-linecap="butt"/>
<line x1="302.4" y1="623.8" x2="522.1" y2="623.8" stroke="#444" stroke-width="1.0" stroke-linecap="butt"/>
<path d="M314.60,623.80 L307.80,625.50 L307.80,622.10 Z" fill="#000"/>
<path d="M412.70,623.80 L419.50,622.10 L419.50,625.50 Z" fill="#000"/>
<text x="429.20" y="620.00" font-size="12.2" textLength="89.70" lengthAdjust="spacingAndGlyphs" fill="#000">Lớn nhất/<tspan font-style="italic">Max</tspan> 175</text>
<line x1="419" y1="670.9" x2="545.8" y2="670.9" stroke="#000" stroke-width="1.0" stroke-linecap="butt"/>
<line x1="543.3" y1="431.6" x2="543.3" y2="670.9" stroke="#000" stroke-width="1.0" stroke-linecap="butt"/>
<path d="M543.30,431.60 L545.00,438.40 L541.60,438.40 Z" fill="#000"/>
<path d="M543.30,670.90 L541.60,664.10 L545.00,664.10 Z" fill="#000"/>
<line x1="518.8" y1="431.6" x2="518.8" y2="582.5" stroke="#000" stroke-width="1.0" stroke-linecap="butt"/>
<path d="M518.80,461.30 L520.50,468.10 L517.10,468.10 Z" fill="#000"/>
<text x="515.90" y="580.30" font-size="12.3" textLength="92.65" lengthAdjust="spacingAndGlyphs" fill="#000" transform="rotate(-90 515.90 580.30)">Lớn nhất/<tspan font-style="italic">Max</tspan> 48</text>
<text x="537.70" y="565.93" font-size="12.2" textLength="28.36" lengthAdjust="spacingAndGlyphs" fill="#000" transform="rotate(-90 537.70 565.93)">(395)</text>
<rect x="401.7" y="563.4" width="14.3" height="7.2" rx="2" stroke="#000" stroke-width="1.5" fill="#fff"/>
<circle cx="412.5" cy="566.6" r="2.8" fill="none" stroke="#000" stroke-width="1.2"/>
<text x="452.90" y="732.10" font-size="12.2" textLength="124.21" lengthAdjust="spacingAndGlyphs" fill="#000">( ) Kích thước tham khảo</text>
<text x="452.90" y="746.30" font-size="12.2" textLength="110.31" lengthAdjust="spacingAndGlyphs" fill="#000" font-style="italic">( ) Referred dimension</text>
</svg></body></html>
